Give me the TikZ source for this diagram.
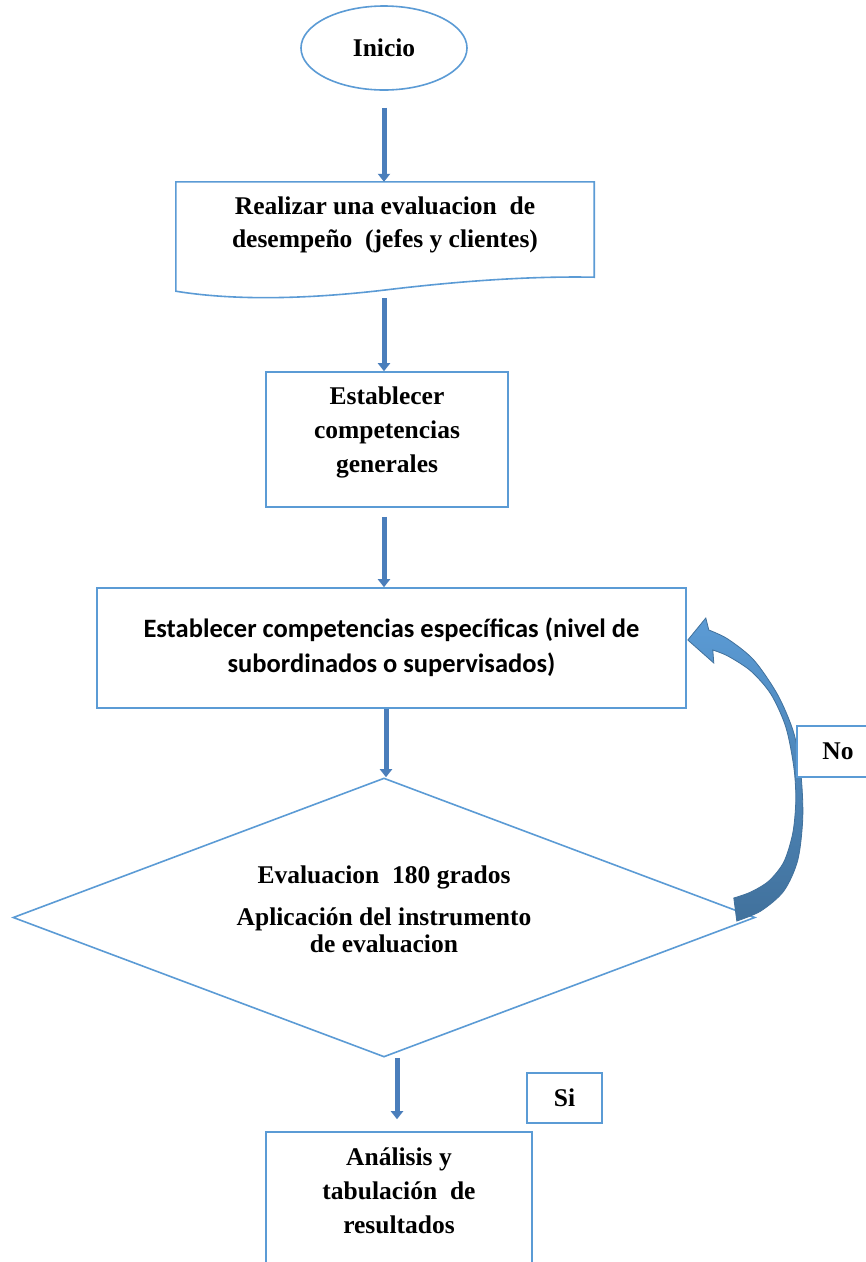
\documentclass[tikz,border=0pt]{standalone}
\usepackage{fontspec}
\setmainfont{Liberation Serif}
\newfontfamily\calibfont{Carlito}
\usetikzlibrary{arrows.meta,shapes.geometric,calc}
\definecolor{lineblue}{HTML}{5B9BD5}
\definecolor{arrowblue}{HTML}{4A7EBB}
\definecolor{arrowdark}{HTML}{41719C}
\definecolor{arrowlight}{HTML}{5B9BD5}
\setlength{\tabcolsep}{0pt}
\begin{document}
\begin{tikzpicture}[x=1pt,y=-1pt,
  outline/.style={draw=lineblue, line width=1.6pt, fill=white},
  boxnode/.style={outline, rectangle, inner sep=0pt},
  serifbig/.style={font=\fontsize{25.5}{34}\selectfont\bfseries},
  blockarr/.style={draw=arrowblue, line width=5pt, -{Triangle[width=12pt,length=8pt]}},
]
\useasboundingbox (0,0) rectangle (866,1262);
\fill[white] (0,0) rectangle (866,1262);
\begin{scope}
\clip (0,0) rectangle (866,1262);

% Inicio
\node[outline, ellipse, minimum width=166pt, minimum height=84pt, inner sep=0pt, serifbig] (inicio) at (384,48) {Inicio};

% document shape
\node[rectangle, minimum width=418pt, minimum height=109pt, inner sep=0pt,
      font=\fontsize{25.5}{33}\selectfont\bfseries] (doc) at (385,236.5)
  {\begin{tabular}{c}Realizar una evaluacion\ \ de\\desempeño\ \ (jefes y clientes)\\[24pt]\end{tabular}};
\draw[draw=lineblue, line width=1.6pt] (doc.south west) -- (doc.north west) -- (doc.north east)
  -- ([yshift=14pt]doc.south east) .. controls (530,276) and (460,281) .. (385,290)
  .. controls (300,300) and (230,300) .. (doc.south west) -- cycle;

% box 2
\node[boxnode, minimum width=242pt, minimum height=135pt, serifbig] (b2) at (387,439.5)
  {\begin{tabular}{c}Establecer\\competencias\\generales\\[16.6pt]\end{tabular}};

% box 3
\node[boxnode, minimum width=589pt, minimum height=120pt,
      font=\calibfont\fontsize{26.5}{35}\selectfont\bfseries] (b3) at (391.5,648)
  {\begin{tabular}{c}Establecer competencias específicas (nivel de\\subordinados o supervisados)\end{tabular}};

% diamond
\node[outline, diamond, aspect=2.66, minimum width=742pt, minimum height=279pt, inner sep=0pt,
      font=\fontsize{25.5}{27}\selectfont\bfseries] (diam) at (384,917.5)
  {\begin{tabular}{c}Evaluacion\ \ 180 grados\\[15pt]Aplicación del instrumento\\de evaluacion\\[10.8pt]\end{tabular}};

% result box
\node[boxnode, minimum width=266pt, minimum height=168pt, serifbig] (res) at (399,1216)
  {\begin{tabular}{c}Análisis y\\tabulación\ \ de\\resultados\\[47.6pt]\end{tabular}};

% straight arrows
\draw[blockarr, shorten <=17pt] (inicio.south) -- (inicio.south |- doc.north);
\draw[blockarr, shorten <=7pt] ([xshift=-1pt]doc.south) -- ([xshift=-1pt]doc.south |- b2.north);
\draw[blockarr, shorten <=9pt] ([xshift=-3pt]b2.south) -- ([xshift=-3pt]b2.south |- b3.north);
\draw[blockarr] ([xshift=-5.5pt]b3.south) -- ([xshift=-5.5pt]b3.south |- diam.north);
\draw[blockarr, shorten >=12pt] ([xshift=13pt]diam.south) -- ([xshift=13pt]diam.south |- res.north);

% curved "No" arrow from diamond back to box 3
\begin{scope}[shift={(b3.east)}]
\shade[top color=arrowlight, bottom color=arrowdark, draw=arrowdark, line width=0.8pt]
  (1,-8) -- (19,-30) -- (22,-18)
  -- plot[smooth] coordinates {(22,-18) (41,-9) (67,12) (91,47) (107,85) (114,125) (116,169) (111,212) (97,243) (74,263) (50,273)}
  -- (47,250)
  -- plot[smooth] coordinates {(47,250) (64,244) (82,233) (97,214) (106,185) (109,152) (107,119) (99,79) (84,46) (64,23) (41,8) (26,2)}
  -- (27,15) -- cycle;
\end{scope}

% labels
\node[boxnode, minimum width=82pt, minimum height=51pt, serifbig] (no) at (838,751.5) {No};
\node[boxnode, minimum width=75pt, minimum height=50pt, serifbig] (si) at (564.5,1098) {Si};

\end{scope}
\end{tikzpicture}
\end{document}
